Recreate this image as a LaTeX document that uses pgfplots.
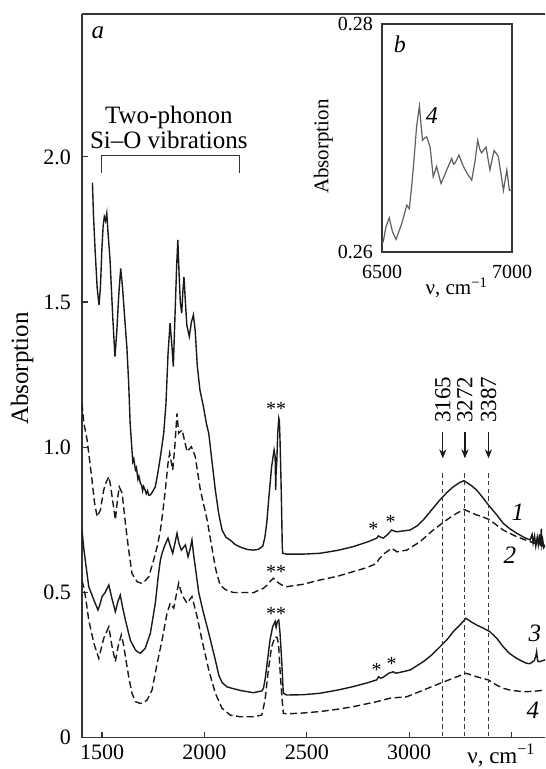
\documentclass[border=0pt]{standalone}
\usepackage{fontspec}
\setmainfont{Liberation Serif}
\usepackage{pgfplots}
\pgfplotsset{compat=1.18}
\usetikzlibrary{arrows.meta}
\definecolor{axiscol}{RGB}{58,52,46}
\definecolor{curvecol}{RGB}{25,25,25}
\definecolor{vlinecol}{RGB}{55,55,55}
\definecolor{insetcol}{RGB}{95,95,95}
\begin{document}
\begin{tikzpicture}
\begin{axis}[
  at={(0pt,0pt)}, anchor=south west,
  scale only axis, width=231.5pt, height=361.85pt,
  xmin=1402, xmax=3663, ymin=0, ymax=2.492,
  axis x line*=box, axis y line*=left,
  axis line style={draw=axiscol, line width=0.75pt},
  xtick={1500,2000,2500,3000,3500},
  xticklabels={1500,2000,2500,3000,{}},
  ytick={0,0.5,1,1.5,2},
  yticklabels={0,0.5,1.0,1.5,2.0},
  xtick pos=left, ytick pos=left,
  tick align=inside,
  major tick length=3pt,
  tick style={draw=axiscol, line width=0.6pt},
  ticklabel style={font=\fontsize{11}{13}\selectfont, text=black},
  yticklabel style={xshift=-2pt},
  /pgf/number format/assume math mode=true,
  clip mode=individual,
  no markers,
]
% curve 1 (solid)
\addplot[color=curvecol, line width=0.7pt] coordinates {
(1453,1.911) (1458,1.80) (1466,1.679) (1476,1.55) (1485,1.490) (1492,1.55) (1499,1.679)
(1505,1.76) (1511,1.794) (1517,1.78) (1523,1.806) (1528,1.75) (1539,1.645) (1552,1.45)
(1563,1.312) (1572,1.40) (1582,1.53) (1591,1.616) (1600,1.55) (1610,1.45) (1621,1.346)
(1630,1.22) (1637,1.084) (1646,0.991) (1650,0.95) (1655,0.96) (1663,0.922) (1668,0.93)
(1675,0.89) (1680,0.90) (1687,0.876) (1693,0.87) (1698,0.85) (1703,0.865) (1710,0.853)
(1716,0.84) (1722,0.85) (1728,0.835) (1736,0.836) (1745,0.845) (1760,0.864) (1772,0.91)
(1785,0.968) (1801,1.048) (1812,1.15) (1822,1.32) (1832,1.427) (1840,1.36) (1848,1.278)
(1856,1.45) (1864,1.62) (1870,1.714) (1876,1.60) (1882,1.50) (1889,1.461) (1894,1.53)
(1900,1.587) (1907,1.50) (1914,1.42) (1926,1.381) (1936,1.43) (1946,1.456) (1955,1.40)
(1965,1.28) (1978,1.197) (1995,1.140) (2010,1.08) (2021,1.048) (2037,0.95) (2053,0.853)
(2070,0.77) (2086,0.715) (2105,0.69) (2125,0.681) (2150,0.665) (2180,0.655) (2210,0.648)
(2239,0.646) (2260,0.648) (2271,0.652) (2285,0.66) (2295,0.69) (2304,0.738) (2316,0.84)
(2328,0.933) (2340,0.991) (2345,0.97) (2348,0.853) (2350,0.92) (2353,0.945) (2358,1.05)
(2363,1.100) (2366,1.09) (2369,1.025) (2375,0.85) (2380,0.66) (2382,0.635) (2402,0.632)
(2480,0.632) (2564,0.635) (2650,0.645) (2727,0.658) (2800,0.675) (2841,0.687) (2850,0.695)
(2856,0.692) (2873,0.687) (2895,0.70) (2914,0.715) (2925,0.712) (2939,0.709) (2970,0.712)
(3004,0.715) (3040,0.73) (3069,0.750) (3110,0.785) (3150,0.819) (3185,0.845) (3215,0.864)
(3245,0.878) (3267,0.885) (3300,0.87) (3329,0.853) (3360,0.826) (3394,0.795) (3430,0.765)
(3459,0.738) (3490,0.72) (3525,0.704) (3560,0.69) (3590,0.681) (3600,0.70) (3605,0.67)
(3612,0.695) (3618,0.66) (3625,0.69) (3630,0.665) (3636,0.70) (3640,0.66) (3645,0.72)
(3648,0.665) (3652,0.68) (3657,0.655) (3663,0.664)
};
% curve 2 (dashed)
\addplot[color=curvecol, line width=0.7pt, dash pattern=on 3.5pt off 1.8pt] coordinates {
(1402,1.15) (1411,1.084) (1427,1.025) (1440,0.95) (1451,0.887) (1463,0.81) (1476,0.761)
(1492,0.784) (1508,0.853) (1520,0.88) (1533,0.899) (1541,0.87) (1549,0.830) (1565,0.750)
(1575,0.82) (1584,0.864) (1598,0.842) (1606,0.79) (1614,0.738) (1630,0.646) (1646,0.566)
(1671,0.537) (1692,0.532) (1710,0.54) (1728,0.554) (1752,0.612) (1770,0.66) (1785,0.715)
(1797,0.78) (1809,0.853) (1822,0.945) (1830,0.979) (1845,0.922) (1855,1.00) (1866,1.117)
(1874,1.048) (1891,1.060) (1915,0.985) (1936,1.002) (1955,0.968) (1980,0.853) (2013,0.750)
(2035,0.66) (2055,0.58) (2076,0.526) (2102,0.51) (2141,0.500) (2206,0.500) (2239,0.499)
(2271,0.510) (2287,0.514) (2305,0.525) (2320,0.537) (2336,0.549) (2345,0.545) (2353,0.537)
(2377,0.526) (2402,0.520) (2480,0.528) (2564,0.543) (2650,0.556) (2727,0.572) (2790,0.585)
(2841,0.600) (2849,0.612) (2880,0.635) (2914,0.652) (2930,0.645) (2939,0.640) (2988,0.646)
(3053,0.675) (3117,0.715) (3183,0.750) (3230,0.772) (3267,0.786) (3300,0.776) (3329,0.767)
(3360,0.76) (3394,0.750) (3430,0.73) (3459,0.715) (3525,0.692) (3590,0.675) (3663,0.658)
};
% curve 3 (solid)
\addplot[color=curvecol, line width=0.7pt] coordinates {
(1402,0.715) (1411,0.650) (1420,0.60) (1435,0.520) (1460,0.474) (1480,0.440) (1490,0.46)
(1500,0.486) (1515,0.50) (1533,0.526) (1548,0.48) (1565,0.434) (1578,0.47) (1589,0.491)
(1600,0.45) (1614,0.405) (1638,0.336) (1663,0.302) (1675,0.295) (1687,0.291) (1700,0.30)
(1711,0.308) (1736,0.360) (1760,0.463) (1775,0.56) (1785,0.612) (1793,0.635) (1805,0.66)
(1822,0.687) (1833,0.66) (1845,0.635) (1856,0.67) (1866,0.704) (1875,0.67) (1887,0.646)
(1907,0.664) (1920,0.623) (1930,0.65) (1939,0.681) (1947,0.63) (1955,0.589) (1972,0.500)
(1995,0.43) (2021,0.360) (2053,0.268) (2070,0.215) (2086,0.19) (2110,0.175) (2135,0.170)
(2180,0.162) (2239,0.155) (2280,0.161) (2288,0.170) (2296,0.20) (2304,0.244) (2320,0.336)
(2333,0.382) (2345,0.400) (2350,0.38) (2356,0.400) (2363,0.405) (2369,0.360) (2377,0.268)
(2385,0.153) (2402,0.147) (2480,0.148) (2564,0.153) (2650,0.164) (2727,0.176) (2800,0.19)
(2841,0.199) (2850,0.210) (2860,0.205) (2873,0.208) (2900,0.222) (2922,0.227) (2935,0.222)
(2955,0.225) (3004,0.233) (3069,0.262) (3110,0.285) (3150,0.313) (3185,0.338) (3215,0.365)
(3250,0.39) (3277,0.411) (3300,0.40) (3329,0.388) (3360,0.378) (3394,0.365) (3430,0.34)
(3459,0.313) (3490,0.29) (3525,0.273) (3555,0.262) (3574,0.256) (3590,0.255) (3600,0.26)
(3610,0.265) (3618,0.28) (3622,0.296) (3626,0.27) (3630,0.262) (3638,0.262) (3650,0.265)
(3663,0.268)
};
% curve 4 (dashed)
\addplot[color=curvecol, line width=0.7pt, dash pattern=on 3.5pt off 1.8pt] coordinates {
(1402,0.54) (1410,0.52) (1419,0.486) (1435,0.405) (1460,0.325) (1484,0.273) (1508,0.342)
(1533,0.382) (1549,0.313) (1565,0.262) (1580,0.32) (1594,0.354) (1605,0.32) (1614,0.279)
(1630,0.210) (1646,0.153) (1663,0.124) (1687,0.118) (1705,0.122) (1720,0.130) (1744,0.164)
(1769,0.256) (1793,0.336) (1817,0.428) (1833,0.463) (1850,0.446) (1862,0.49) (1874,0.532)
(1891,0.491) (1915,0.463) (1939,0.486) (1964,0.417) (1988,0.336) (2021,0.233) (2053,0.153)
(2086,0.101) (2126,0.078) (2174,0.072) (2239,0.072) (2280,0.078) (2296,0.130) (2312,0.233)
(2328,0.313) (2345,0.348) (2355,0.345) (2362,0.32) (2369,0.233) (2377,0.153) (2385,0.084)
(2402,0.082) (2480,0.085) (2564,0.090) (2650,0.098) (2727,0.107) (2841,0.124) (2906,0.136)
(2988,0.141) (3069,0.164) (3150,0.187) (3215,0.205) (3277,0.222) (3329,0.210) (3386,0.199)
(3427,0.181) (3460,0.17) (3492,0.164) (3557,0.158) (3610,0.16) (3663,0.164)
};
% vertical dashed marker lines
\addplot[color=vlinecol, line width=0.55pt, dash pattern=on 2.2pt off 1.6pt] coordinates {(3164,0.91) (3164,0)};
\addplot[color=vlinecol, line width=0.55pt, dash pattern=on 2.2pt off 1.6pt] coordinates {(3272,0.91) (3272,0)};
\addplot[color=vlinecol, line width=0.55pt, dash pattern=on 2.2pt off 1.6pt] coordinates {(3387,0.91) (3387,0)};
% arrows
\draw[-{Stealth[length=4.5pt,width=3.6pt]}, line width=0.6pt, curvecol] (axis cs:3164,1.054) -- (axis cs:3164,0.962);
\draw[-{Stealth[length=4.5pt,width=3.6pt]}, line width=0.6pt, curvecol] (axis cs:3272,1.054) -- (axis cs:3272,0.962);
\draw[-{Stealth[length=4.5pt,width=3.6pt]}, line width=0.6pt, curvecol] (axis cs:3387,1.054) -- (axis cs:3387,0.962);
\node[rotate=90, font=\fontsize{11.5}{13}\selectfont, inner sep=0pt] at (axis cs:3164,1.163) {3165};
\node[rotate=90, font=\fontsize{11.5}{13}\selectfont, inner sep=0pt] at (axis cs:3272,1.163) {3272};
\node[rotate=90, font=\fontsize{11.5}{13}\selectfont, inner sep=0pt] at (axis cs:3387,1.163) {3387};
% bracket and annotation
\draw[axiscol, line width=0.6pt] (axis cs:1498,1.945) -- (axis cs:1498,2.004) -- (axis cs:2170,2.004) -- (axis cs:2170,1.945);
\node[anchor=base, font=\fontsize{12.5}{14}\selectfont, inner sep=0pt] at (axis cs:1826,2.116) {Two-phonon};
\node[anchor=base, font=\fontsize{12.5}{14}\selectfont, inner sep=0pt] at (axis cs:1826,2.030) {Si--O vibrations};
\node[font=\fontsize{12.5}{14}\selectfont\itshape, inner sep=0pt] at (axis cs:1480,2.427) {a};
% asterisks
\node[font=\fontsize{10}{12}\selectfont, inner sep=0pt] at (axis cs:2350,1.131) {**};
\node[font=\fontsize{10}{12}\selectfont, inner sep=0pt] at (axis cs:2350,0.572) {**};
\node[font=\fontsize{10}{12}\selectfont, inner sep=0pt] at (axis cs:2350,0.426) {**};
\node[font=\fontsize{10}{12}\selectfont, inner sep=0pt] at (axis cs:2825,0.718) {*};
\node[font=\fontsize{10}{12}\selectfont, inner sep=0pt] at (axis cs:2909,0.744) {*};
\node[font=\fontsize{10}{12}\selectfont, inner sep=0pt] at (axis cs:2841,0.233) {*};
\node[font=\fontsize{10}{12}\selectfont, inner sep=0pt] at (axis cs:2914,0.254) {*};
% curve labels
\node[font=\fontsize{12.5}{14}\selectfont\itshape, inner sep=0pt] at (axis cs:3531,0.777) {1};
\node[font=\fontsize{12.5}{14}\selectfont\itshape, inner sep=0pt] at (axis cs:3492,0.629) {2};
\node[font=\fontsize{12.5}{14}\selectfont\itshape, inner sep=0pt] at (axis cs:3614,0.361) {3};
\node[font=\fontsize{12.5}{14}\selectfont\itshape, inner sep=0pt] at (axis cs:3604,0.096) {4};
% axis labels
\node[rotate=90, font=\fontsize{12.5}{14}\selectfont, inner sep=0pt] at (axis description cs:-0.1296,0.51) {Absorption};
\node[anchor=base west, font=\fontsize{11.5}{13}\selectfont, inner sep=0pt] at ([yshift=-12.8pt]axis cs:3282,0) {ν, cm\textsuperscript{−1}};
\end{axis}
% inset
\begin{axis}[
  at={(150pt,242.85pt)}, anchor=south west,
  scale only axis, width=65pt, height=114pt,
  xmin=6500, xmax=7000, ymin=0.26, ymax=0.28,
  axis background/.style={fill=white},
  axis line style={draw=axiscol, line width=0.7pt},
  xtick={6500,7000}, xticklabels={6500,7000},
  ytick={0.26,0.28}, yticklabels={0.26,0.28},
  major tick length=0pt,
  ticklabel style={font=\fontsize{10}{12}\selectfont, text=black},
  xticklabel style={yshift=-3pt},
  yticklabel style={xshift=-1pt},
  /pgf/number format/assume math mode=true,
  clip mode=individual,
  no markers,
]
\addplot[color=insetcol, line width=0.6pt] coordinates {
(6500,0.2608) (6505,0.2609) (6515,0.2622) (6528,0.2630) (6540,0.2618) (6554,0.2611)
(6565,0.2618) (6576,0.2625) (6587,0.2634) (6595,0.2641) (6605,0.2638) (6613,0.2655)
(6621,0.2675) (6633,0.2710) (6644,0.2728) (6650,0.2712) (6656,0.2698) (6664,0.2700)
(6672,0.2701) (6685,0.2692) (6697,0.2666) (6710,0.2675) (6727,0.2660) (6738,0.2666)
(6749,0.2672) (6768,0.2682) (6775,0.2677) (6781,0.2678) (6796,0.2685) (6813,0.2675)
(6830,0.2668) (6845,0.2663) (6858,0.2680) (6868,0.2698) (6876,0.2690) (6883,0.2687)
(6900,0.2692) (6915,0.2672) (6931,0.2689) (6947,0.2684) (6958,0.2668) (6967,0.2654)
(6980,0.2672) (6990,0.2654) (7000,0.2655)
};
\node[font=\fontsize{12}{14}\selectfont\itshape, inner sep=0pt] at (axis cs:6569,0.2782) {b};
\node[font=\fontsize{12}{14}\selectfont\itshape, inner sep=0pt] at (axis cs:6692,0.2720) {4};
\node[rotate=90, font=\fontsize{10.5}{12}\selectfont, inner sep=0pt] at ([xshift=-29.3pt]rel axis cs:0,0.462) {Absorption};
\node[anchor=base, font=\fontsize{10.5}{12}\selectfont, inner sep=0pt] at ([yshift=-21.5pt]rel axis cs:0.575,0) {ν, cm\textsuperscript{−1}};
\end{axis}
\pgfresetboundingbox
\path[use as bounding box] (-41pt,-15.65pt) rectangle (231.5pt,368.85pt);
\end{tikzpicture}
\end{document}
